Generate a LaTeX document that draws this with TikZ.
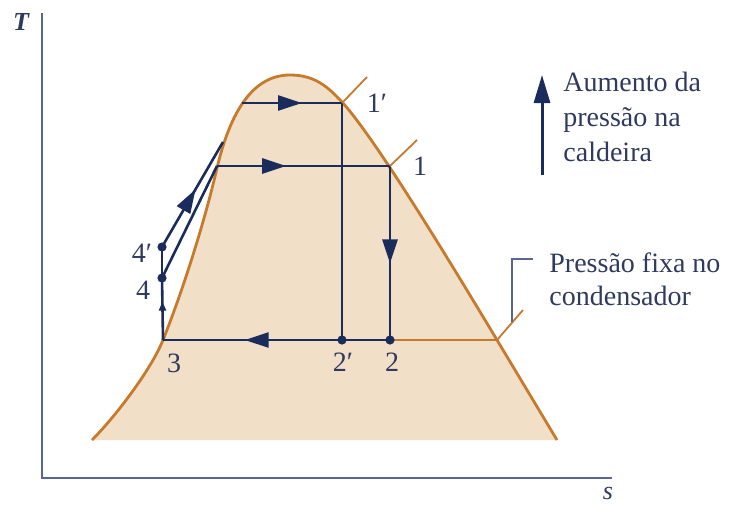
\documentclass[tikz,border=0pt]{standalone}
\usepackage{fontspec}
\setmainfont{Liberation Serif}
\usetikzlibrary{arrows.meta,decorations.markings}
\definecolor{azulesc}{HTML}{1A2C5B}
\definecolor{laranja}{HTML}{C87A2C}
\definecolor{bege}{HTML}{F2DFC8}
\definecolor{eixocor}{HTML}{5A6690}
\definecolor{textocor}{HTML}{2E3A5E}

\begin{document}
\begin{tikzpicture}[x=0.5pt, y=-0.5pt,
  ciclo/.style={azulesc, line width=1.3pt},
  domo/.style={laranja, line width=1.4pt},
  marca/.style={laranja, line width=0.9pt},
  fina/.style={eixocor, line width=0.7pt},
  ponto/.style={circle, fill=azulesc, inner sep=0pt, minimum size=4.6pt},
  rotulo/.style={text=textocor, font=\fontsize{14}{16}\selectfont, inner sep=0pt},
  legenda/.style={text=textocor, align=left, inner sep=0pt, anchor=west},
  ponta/.style={postaction={decorate}, decoration={markings,
      mark=at position #1 with {\arrow{Triangle[length=12pt,width=7.5pt]}}}},
  pontinha/.style={postaction={decorate}, decoration={markings,
      mark=at position #1 with {\arrow{Triangle[length=4.5pt,width=3.5pt]}}}}
]
\useasboundingbox (0,0) rectangle (732,504);

% domo de saturacao (o preenchimento fecha pela base, o traco nao)
\draw[domo, fill=bege] (92,440) .. controls (115,417) and (151,370) .. (163,340)
  .. controls (185,285) and (206,216) .. (217,168)
  .. controls (228,122) and (248,75) .. (290,75)
  .. controls (315,75) and (328,87) .. (342,102)
  .. controls (375,138) and (452,265) .. (497,340)
  -- (557,440);

% eixos
\coordinate (topoT) at (42,13);
\coordinate (origem) at (42,478);
\coordinate (fimS) at (612,478);
\draw[eixocor, line width=1pt] (topoT) -- (origem) -- (fimS);
\node[text=textocor, font=\fontsize{13}{13}\selectfont\itshape\bfseries] (eixoT) at (21,22) {T};
\node[text=textocor, font=\fontsize{13}{13}\selectfont\itshape] (eixoS) at (608,493) {s};

% estados do ciclo
\coordinate (e1l) at (342,103);
\coordinate (e1) at (390,166);
\coordinate (e2l) at (342,340);
\coordinate (e2) at (390,340);
\coordinate (e3) at (163,340);
\coordinate (e4) at (162,278);
\coordinate (e4l) at (162,247);
\coordinate (liqA) at (242,103);
\coordinate (liqB) at (217,166);
\coordinate (liqC) at (223,142);
\coordinate (vapC) at (497,340);

\draw[domo] (e2) -- (vapC);
\draw[ciclo, ponta=0.6] (liqA) -- (e1l);
\draw[ciclo, ponta=0.4] (liqB) -- (e1);
\draw[ciclo] (e1l) -- (e2l);
\draw[ciclo, ponta=0.56] (e1) -- (e2);
\draw[ciclo, ponta=0.64] (e2) -- (e3);
\draw[ciclo, pontinha=0.62] (e3) -- (e4);
\draw[ciclo] (e4) -- (e4l);
\draw[ciclo] (e4) -- (liqB);
\draw[ciclo, ponta=0.55] (e4l) -- (liqC);

\node[ponto] at (e2l) {};
\node[ponto] at (e2) {};
\node[ponto] at (e4) {};
\node[ponto] at (e4l) {};

% marcas das linhas de pressao
\draw[marca] (e1l) -- ++(25,-26);
\draw[marca] (e1) -- ++(27,-26);
\draw[marca] (vapC) -- ++(26,-30);

\node[rotulo] (r1l) at (377,103) {1′};
\node[rotulo] (r1) at (420,166) {1};
\node[rotulo] (r2l) at (343,362) {2′};
\node[rotulo] (r2) at (392,362) {2};
\node[rotulo] (r3) at (174,363) {3};
\node[rotulo] (r4l) at (142,253) {4′};
\node[rotulo] (r4) at (143,290) {4};

% legendas
\coordinate (aumBase) at (542,175);
\coordinate (aumTopo) at (542,75);
\draw[azulesc, line width=1.5pt, -{Triangle[length=14pt,width=8pt]}] (aumBase) -- (aumTopo);
\node[legenda, font=\fontsize{14}{17.5}\selectfont] (aumento) at (563,117)
  {Aumento da\\pressão na\\caldeira};

\coordinate (chamA) at (512,322);
\coordinate (chamB) at (512,259);
\coordinate (chamC) at (533,259);
\draw[fina] (chamA) -- (chamB) -- (chamC);
\node[legenda, font=\fontsize{14}{16.5}\selectfont] (condens) at (549,279)
  {Pressão fixa no\\condensador};
\end{tikzpicture}
\end{document}
